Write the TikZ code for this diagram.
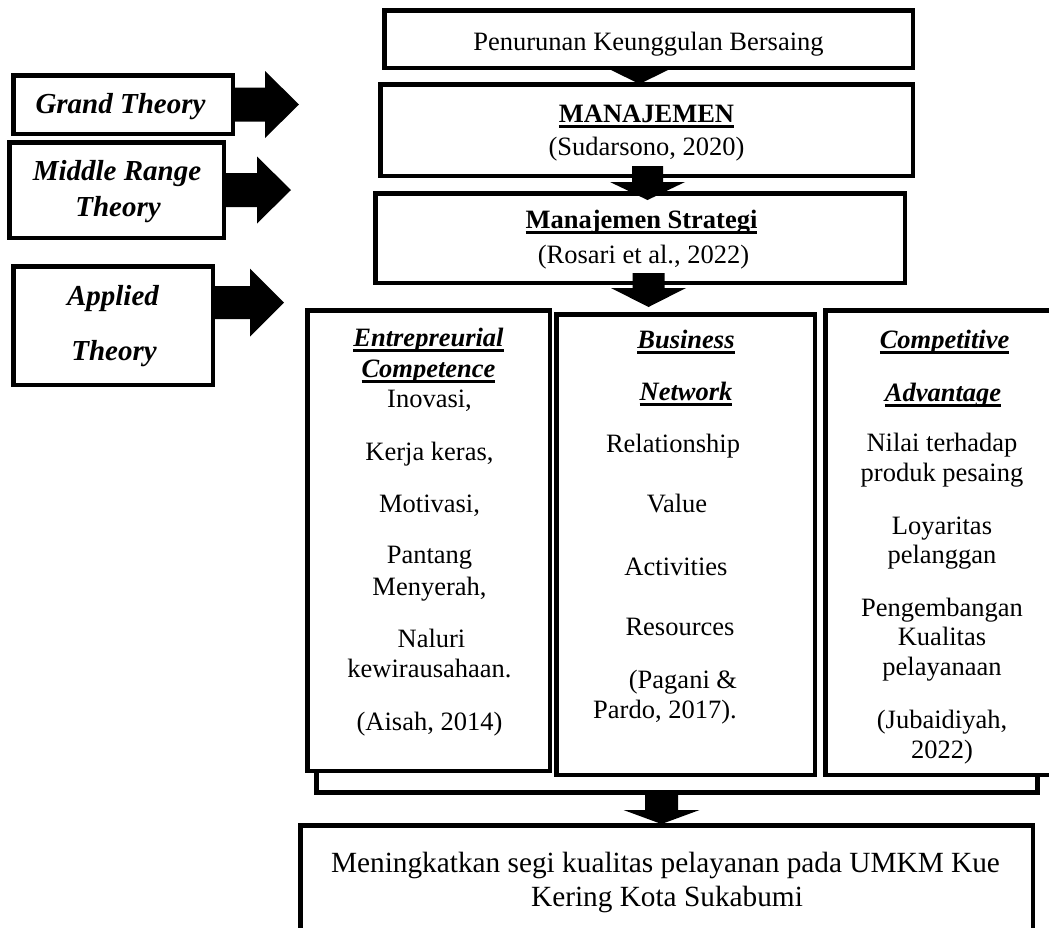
\documentclass[tikz,border=0pt]{standalone}
\usepackage{fontspec}
\setmainfont{Liberation Serif}
\usetikzlibrary{calc}
\newsavebox\ulbox
\newcommand\ulin[1]{\sbox\ulbox{#1}\rlap{\rule[-5.5pt]{\wd\ulbox}{2.4pt}}\usebox\ulbox}
% right-pointing block arrow: #1 start (shaft mid-left), #2 shaft len, #3 head len, #4 shaft half, #5 head half
\newcommand\rblock[5]{\fill (#1) ++(0,-#4) -- ++(#2,0) -- ++(0,{#4-#5}) -- ++(#3,#5) -- ++(-#3,#5) -- ++(0,{#4-#5}) -- ++(-#2,0) -- cycle;}
% down-pointing block arrow: #1 start (shaft mid-top)
\newcommand\dblock[5]{\fill (#1) ++(-#4,0) -- ++(0,#2) -- ++({#4-#5},0) -- ++(#5,#3) -- ++(#5,-#3) -- ++({#4-#5},0) -- ++(0,-#2) -- cycle;}
\tikzset{
  box/.style={draw, line width=4.5pt, fill=white, inner sep=0pt},
  txt/.style={anchor=base, inner sep=0pt, font=\fontsize{26.5}{30}\selectfont},
  lbl/.style={anchor=base, inner sep=0pt, font=\fontsize{29}{34}\selectfont\bfseries\itshape},
  big/.style={anchor=base, inner sep=0pt, font=\fontsize{29.3}{34}\selectfont},
  head/.style={txt, font=\fontsize{26.5}{30}\selectfont\bfseries\itshape},
}
\begin{document}
\begin{tikzpicture}[x=1pt,y=-1pt]
\useasboundingbox (0,0) rectangle (1049,927);
\clip (0,0) rectangle (1049,927);

% bracket under the three columns
\coordinate (brL) at (316.5,760);
\coordinate (brR) at (1037.5,760);
\draw[line width=5pt] (brL) -- (316.5,792.5) -- (1037.5,792.5) -- (brR);

% boxes
\node[box, minimum width=528.5, minimum height=57.5] (top) at (648.5,39) {};
\node[box, minimum width=532.5, minimum height=91.5] (manaj) at (646.5,130) {};
\node[box, minimum width=529.5, minimum height=89.5] (strat) at (640,238) {};
\node[box, minimum width=219.5, minimum height=58.5] (grand) at (123,104.5) {};
\node[box, minimum width=214.5, minimum height=95.5] (middle) at (116.5,190) {};
\node[box, minimum width=199.5, minimum height=118.5] (applied) at (113,325.5) {};
\node[box, minimum width=242.5, minimum height=460.5] (col1) at (428.5,540.5) {};
\node[box, minimum width=258.5, minimum height=460.5] (col2) at (685.5,544.5) {};
\node[box, minimum width=252.5, minimum height=464.5] (col3) at (951.5,542.5) {};
\node[box, minimum width=732.5, minimum height=172.5] (bottom) at (666.5,911.5) {};

% right block arrows from the theory labels
\rblock{$(grand.east)+(-2,0)$}{32}{34}{17}{33.5}
\rblock{$(middle.east)+(-2,0)$}{33}{34}{17}{33.5}
\rblock{$(applied.east)+(-2,-23)$}{37}{34}{16.5}{34}

% down block arrows
\dblock{$(top.south)+(-9,0)$}{0}{14}{0}{28.5}
\dblock{$(manaj.south)+(1,-12)$}{16}{18}{15.5}{37.5}
\dblock{$(strat.south)+(8.5,-12)$}{15}{19}{16}{37.5}
\dblock{$(bottom.north)+(-5,-28)$}{15}{14}{16.5}{38}

% texts
\node[txt] (t-top) at (648.5,50) {Penurunan Keunggulan Bersaing};
\node[txt] (t-m1) at (646.5,122) {\textbf{\ulin{MANAJEMEN}}};
\node[txt] (t-m2) at (646.5,155) {(Sudarsono, 2020)};
\node[txt] (t-s1) at (641.5,228) {\textbf{\ulin{Manajemen Strategi}}};
\node[txt] (t-s2) at (643.5,263) {(Rosari et al., 2022)};

\node[lbl] (t-g) at (120.5,113) {Grand Theory};
\node[lbl] (t-mr1) at (117,180) {Middle Range};
\node[lbl] (t-mr2) at (118,216) {Theory};
\node[lbl] (t-a1) at (113,305) {Applied};
\node[lbl] (t-a2) at (114,360) {Theory};

% column 1
\node[head] (c1h1) at (428.5,346) {\ulin{Entrepreurial}};
\node[head] (c1h2) at (428.5,377) {\ulin{Competence}};
\node[txt] (c1a) at (429.5,407) {Inovasi,};
\node[txt] (c1b) at (429.5,460) {Kerja keras,};
\node[txt] (c1c) at (429.5,512) {Motivasi,};
\node[txt] (c1d) at (429.5,563) {Pantang};
\node[txt] (c1e) at (429.5,595) {Menyerah,};
\node[txt] (c1f) at (431.5,647) {Naluri};
\node[txt] (c1g) at (429.5,677) {kewirausahaan.};
\node[txt] (c1h) at (429.5,730) {(Aisah, 2014)};

% column 2
\node[head] (c2h1) at (686,348) {\ulin{Business}};
\node[head] (c2h2) at (686,400) {\ulin{Network}};
\node[txt] (c2a) at (673,452) {Relationship};
\node[txt] (c2b) at (677,512) {Value};
\node[txt] (c2c) at (676,575) {Activities};
\node[txt] (c2d) at (680,635) {Resources};
\node[txt] (c2e) at (683,688) {(Pagani \&};
\node[txt] (c2f) at (665,718) {Pardo, 2017).};

% column 3
\node[head] (c3h1) at (944.5,348) {\ulin{Competitive}};
\node[head] (c3h2) at (943,401) {\ulin{Advantage}};
\node[txt] (c3a) at (942,451) {Nilai terhadap};
\node[txt] (c3b) at (942,481) {produk pesaing};
\node[txt] (c3c) at (942,534) {Loyaritas};
\node[txt] (c3d) at (942,563) {pelanggan};
\node[txt] (c3e) at (942,616) {Pengembangan};
\node[txt] (c3f) at (942,645) {Kualitas};
\node[txt] (c3g) at (942,675) {pelayanaan};
\node[txt] (c3h) at (942,728) {(Jubaidiyah,};
\node[txt] (c3i) at (942,758) {2022)};

% bottom
\node[big] (b1) at (665.5,872) {Meningkatkan segi kualitas pelayanan pada UMKM Kue};
\node[big] (b2) at (667,906) {Kering Kota Sukabumi};
\end{tikzpicture}
\end{document}
